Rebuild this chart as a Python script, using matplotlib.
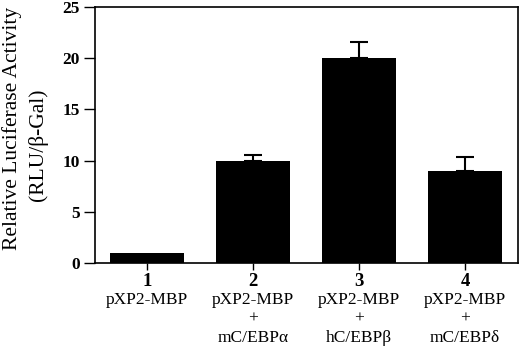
import matplotlib
matplotlib.use("Agg")
import matplotlib.pyplot as plt
from matplotlib.transforms import blended_transform_factory

lanes = [1, 2, 3, 4]
values = [1.0, 10.0, 20.0, 9.0]
errors = [0.0, 0.5, 1.6, 1.4]
lane_lines = [["pXP2-MBP"],
              ["pXP2-MBP", "+", "mC/EBPα"],
              ["pXP2-MBP", "+", "hC/EBPβ"],
              ["pXP2-MBP", "+", "mC/EBPδ"]]
yticks = [0, 5, 10, 15, 20, 25]

plt.rcParams["font.family"] = ["Liberation Serif", "DejaVu Serif"]

fig = plt.figure(figsize=(5.2, 3.57), dpi=100)
ax = fig.add_axes([0.1827, 0.2633, 0.8135, 0.717])

ax.bar(lanes, values, width=0.69, color="black", zorder=2)
# error bars only where there is one (lane 1 has none)
ex = [x for x, e in zip(lanes, errors) if e > 0]
ev = [v for v, e in zip(values, errors) if e > 0]
ee = [e for e in errors if e > 0]
ax.errorbar(ex, ev, yerr=[[0] * len(ee), ee], fmt="none", ecolor="black",
            elinewidth=1.5, capsize=6.5, capthick=1.5, zorder=1)

ax.set_xlim(0.51, 4.5)
ax.set_ylim(0, 25)
ax.set_yticks(yticks)
ax.set_yticklabels([str(t) for t in yticks], fontsize=12.5, fontweight="bold")
ax.set_xticks(lanes)
ax.set_xticklabels([])
ax.tick_params(axis="y", direction="out", length=8, width=1, pad=3)
ax.tick_params(axis="x", direction="out", length=5, width=1)
for s in ax.spines.values():
    s.set_linewidth(1.2)

tr = blended_transform_factory(ax.transData, fig.transFigure)
line_y = [300, 319, 338]
for x, lines in zip(lanes, lane_lines):
    ax.text(x, 1 - 282 / 357, str(x), transform=tr, ha="center", va="center",
            fontsize=13.5, fontweight="bold")
    for yy, txt in zip(line_y, lines):
        ax.text(x, 1 - yy / 357, txt, transform=tr, ha="center", va="center",
                fontsize=12.5)

fig.text(12 / 520, 1 - 128 / 357, "Relative Luciferase Activity", rotation=90,
         ha="center", va="center", fontsize=15.5)
fig.text(38 / 520, 1 - 145 / 357, "(RLU/β-Gal)", rotation=90,
         ha="center", va="center", fontsize=15.5)

fig.savefig("out.png", dpi=100)
